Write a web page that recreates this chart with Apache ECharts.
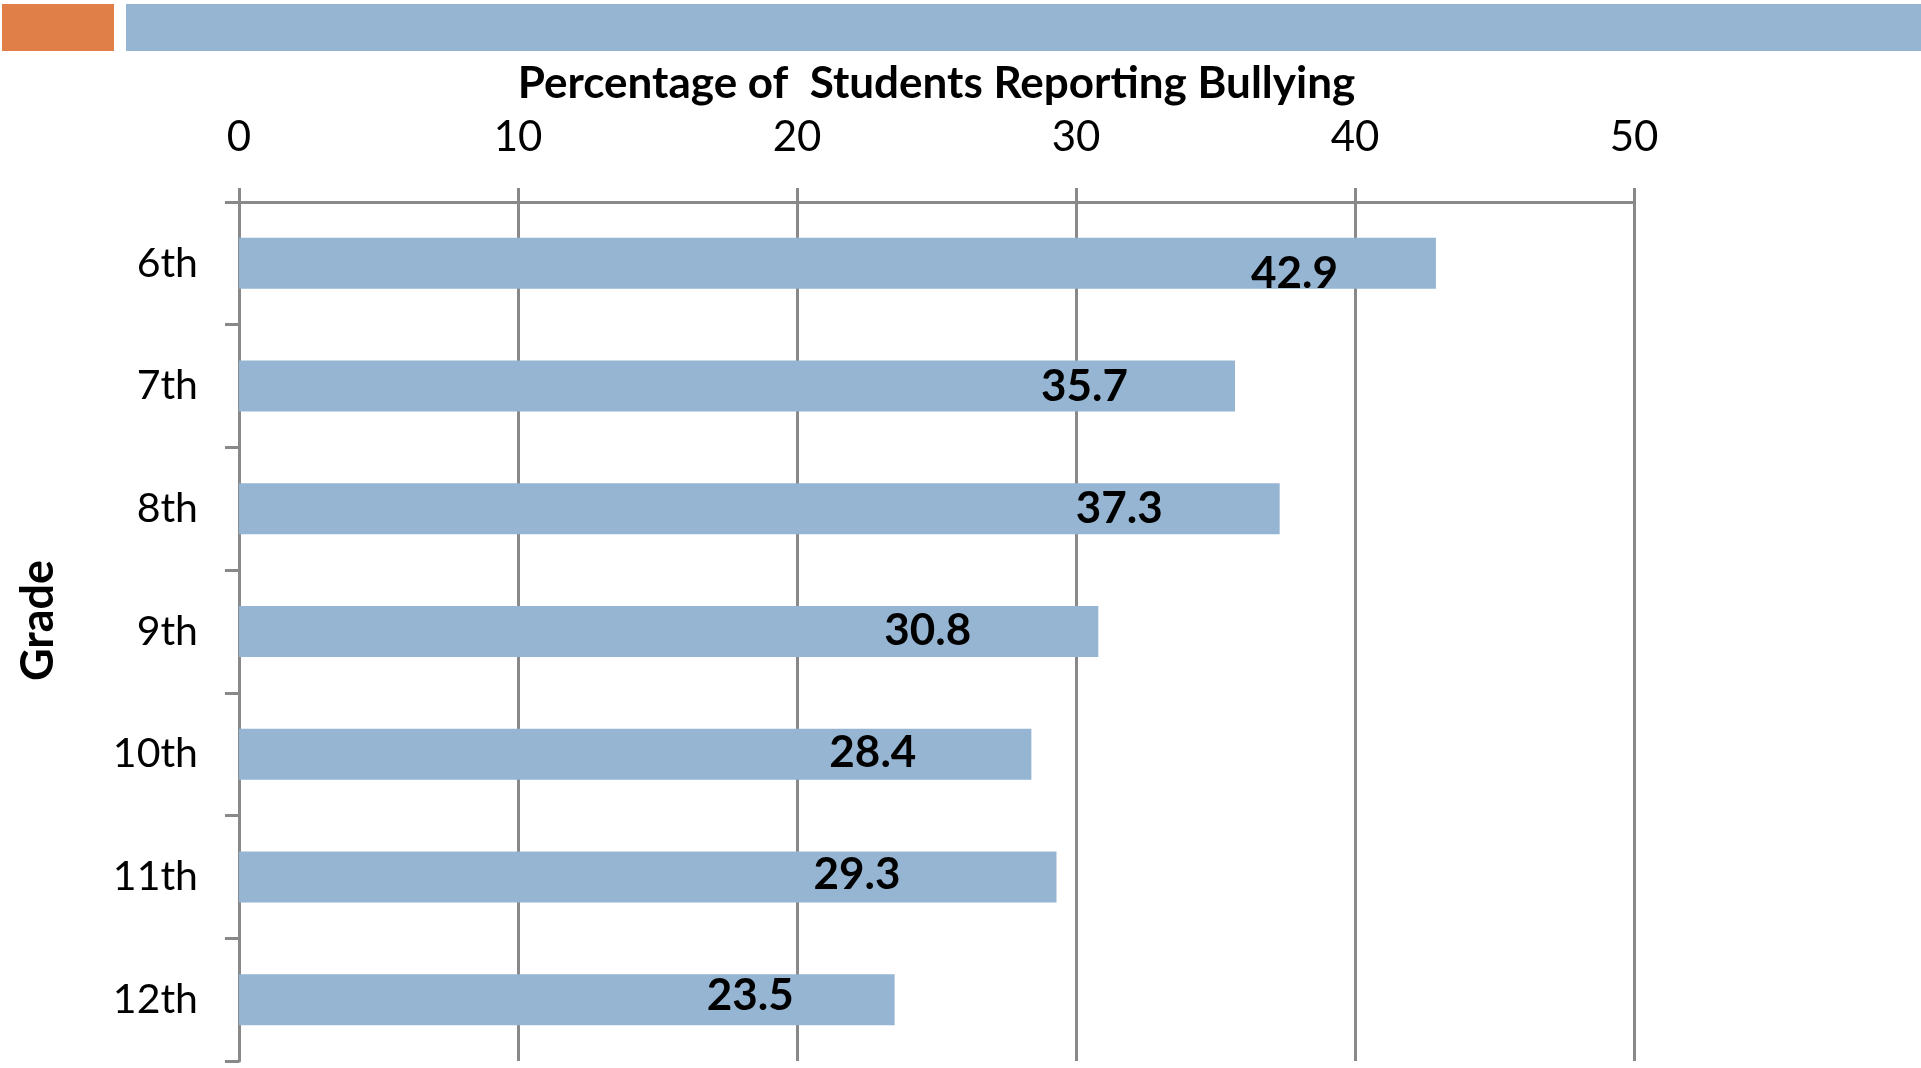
<!DOCTYPE html>
<html>
<head>
<meta charset="utf-8">
<style type="text/css">
html, body {margin: 0; padding: 0; background: #fff;}
#chart {width: 1921px; height: 1068px;}
</style>
<script src="https://cdn.jsdelivr.net/npm/echarts@6/dist/echarts.min.js"></script>
</head>
<body>
<div id="chart"></div>
<script type="text/javascript">
var grades = ['6th', '7th', '8th', '9th', '10th', '11th', '12th'];
var bullying = [42.9, 35.7, 37.3, 30.8, 28.4, 29.3, 23.5];
var xTicks = [0, 10, 20, 30, 40, 50];
// label placement as in the original slide (px from bar end, vertical nudge)
var labelInset = [98, 107, 117, 127, 115, 156, 101];
var labelNudge = [10, 1, 0, -1, -1, -2, -4];

var chart = echarts.init(document.getElementById('chart'));
var grey = '#898989';
var font = 'Lato, "DejaVu Sans", sans-serif';

var barData = bullying.map(function (v, i) {
    return {value: v, label: {distance: labelInset[i], offset: [0, labelNudge[i]]}};
});

var option = {
    animation: false,
    textStyle: {fontFamily: font, color: '#000'},
    graphic: [
        {type: 'rect', shape: {x: 2, y: 4, width: 112, height: 47}, style: {fill: '#E08048'}},
        {type: 'rect', shape: {x: 126, y: 4, width: 1795, height: 47}, style: {fill: '#95B5D3'}}
    ],
    grid: {left: 239, right: 287, top: 202, bottom: 7},
    xAxis: {
        type: 'value',
        position: 'top',
        min: xTicks[0],
        max: xTicks[xTicks.length - 1],
        interval: 10,
        name: 'Percentage of  Students Reporting Bullying',
        nameLocation: 'middle',
        nameGap: 96,
        nameTextStyle: {fontSize: 44, fontWeight: 'bold', fontFamily: font, color: '#000'},
        axisLine: {show: true, lineStyle: {color: grey, width: 3}},
        axisTick: {show: true, length: 14, lineStyle: {color: grey, width: 3}},
        axisLabel: {fontSize: 42, color: '#000', margin: 44, fontFamily: font},
        splitLine: {show: true, lineStyle: {color: grey, width: 3}}
    },
    yAxis: {
        type: 'category',
        inverse: true,
        data: grades,
        name: 'Grade',
        nameLocation: 'middle',
        nameGap: 178,
        nameRotate: 90,
        nameTextStyle: {fontSize: 45, fontWeight: 'bold', fontFamily: font, color: '#000', padding: [0, 0, 0, 22]},
        axisLine: {show: true, lineStyle: {color: grey, width: 3}},
        axisTick: {show: true, length: 14, alignWithLabel: false, lineStyle: {color: grey, width: 3}},
        axisLabel: {fontSize: 41, color: '#000', margin: 41, fontFamily: font}
    },
    series: [{
        type: 'bar',
        data: barData,
        barWidth: 51,
        itemStyle: {color: '#95B5D3'},
        label: {
            show: true,
            position: 'insideRight',
            fontSize: 44,
            fontWeight: 'bold',
            color: '#000',
            fontFamily: font
        }
    }]
};
chart.setOption(option);
</script>
</body>
</html>
